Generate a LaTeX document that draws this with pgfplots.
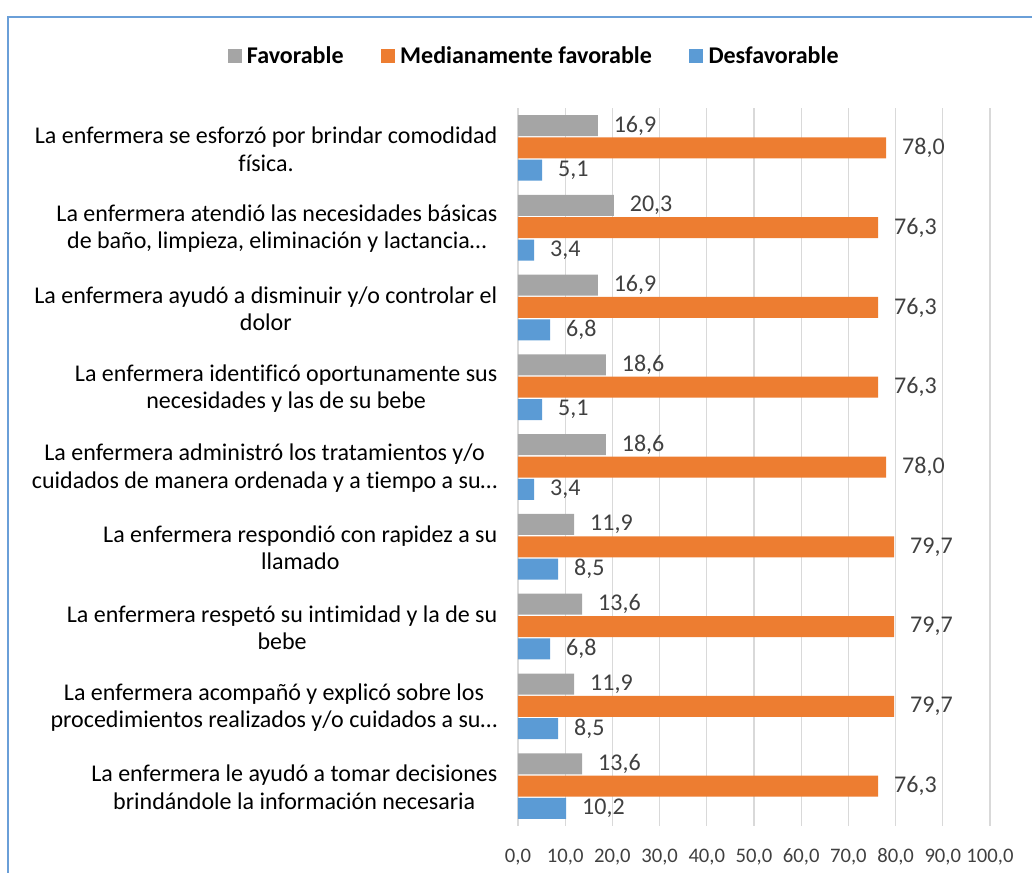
\documentclass[border=0pt]{standalone}
\usepackage{pgfplots}
\pgfplotsset{compat=1.18}
\usepackage{fontspec}
\setmainfont{Carlito}[RawFeature={-liga}]
\definecolor{cgray}{HTML}{A5A5A5}
\definecolor{corange}{HTML}{ED7D31}
\definecolor{cblue}{HTML}{5B9BD5}
\definecolor{bordblue}{HTML}{6A9FD8}
\definecolor{gridc}{HTML}{D9D9D9}
\definecolor{txt}{HTML}{404040}
\begin{document}
\begin{tikzpicture}
\useasboundingbox (0pt,0pt) rectangle (774pt,654.75pt);
\draw[bordblue, line width=1.1pt] (6pt,-2pt) -- (6pt,642pt) -- (776pt,642pt);
\begin{axis}[
  at={(388.5pt,35.25pt)}, anchor=south west,
  scale only axis, width=354pt, height=538.5pt,
  xbar=1pt, bar width=15.75pt,
  xmin=0, xmax=100, xtick={0,10,...,100},
  ymin=-0.5, ymax=8.5, y dir=reverse,
  ytick={0,...,8},
  yticklabels={
    {La enfermera se esforzó por brindar comodidad\\física.},
    {La enfermera atendió las necesidades básicas\\de baño, limpieza, eliminación y lactancia…},
    {La enfermera ayudó a disminuir y/o controlar el\\dolor},
    {La enfermera identificó oportunamente sus\\necesidades y las de su bebe},
    {La enfermera administró los tratamientos y/o\\cuidados de manera ordenada y a tiempo a su…},
    {La enfermera respondió con rapidez a su\\llamado},
    {La enfermera respetó su intimidad y la de su\\bebe},
    {La enfermera acompañó y explicó sobre los\\procedimientos realizados y/o cuidados a su…},
    {La enfermera le ayudó a tomar decisiones\\brindándole la información necesaria}},
  yticklabel style={align=center, font=\fontsize{18}{20.5}\selectfont, text=black, xshift=-12pt},
  typeset ticklabels with strut,
  xticklabel style={font=\fontsize{15.5}{18}\selectfont, text=txt, yshift=-11pt},
  /pgf/number format/.cd, fixed, fixed zerofill, precision=1, use comma, assume math mode=true,
  /pgfplots/.cd,
  axis line style={draw=none},
  major tick length=0pt,
  xmajorgrids, grid style={gridc, line width=0.9pt},
  nodes near coords,
  nodes near coords style={font=\fontsize{18}{20}\selectfont, text=txt, anchor=west, xshift=8.5pt,
    /pgf/number format/.cd, fixed, fixed zerofill, precision=1, use comma, assume math mode=true},
  legend columns=3,
  legend style={at={(0.032,1.072)}, anchor=center, draw=none, fill=none,
    font=\fontsize{18}{20}\selectfont\bfseries,
    nodes={inner sep=0pt},
    /tikz/every odd column/.append style={column sep=4pt},
    /tikz/every even column/.append style={column sep=28pt}},
  legend image code/.code={\fill[#1,draw=none] (0pt,-5.25pt) rectangle (10.5pt,5.25pt);},
]
\addplot[fill=cgray, draw=none, bar shift=16.75pt] coordinates {(16.9,0) (20.3,1) (16.9,2) (18.6,3) (18.6,4) (11.9,5) (13.6,6) (11.9,7) (13.6,8)};
\addplot[fill=corange, draw=none, bar shift=0pt] coordinates {(78.0,0) (76.3,1) (76.3,2) (76.3,3) (78.0,4) (79.7,5) (79.7,6) (79.7,7) (76.3,8)};
\addplot[fill=cblue, draw=none, bar shift=-16.75pt] coordinates {(5.1,0) (3.4,1) (6.8,2) (5.1,3) (3.4,4) (8.5,5) (6.8,6) (8.5,7) (10.2,8)};
\legend{Favorable, Medianamente favorable, Desfavorable}
\end{axis}
\end{tikzpicture}
\end{document}
